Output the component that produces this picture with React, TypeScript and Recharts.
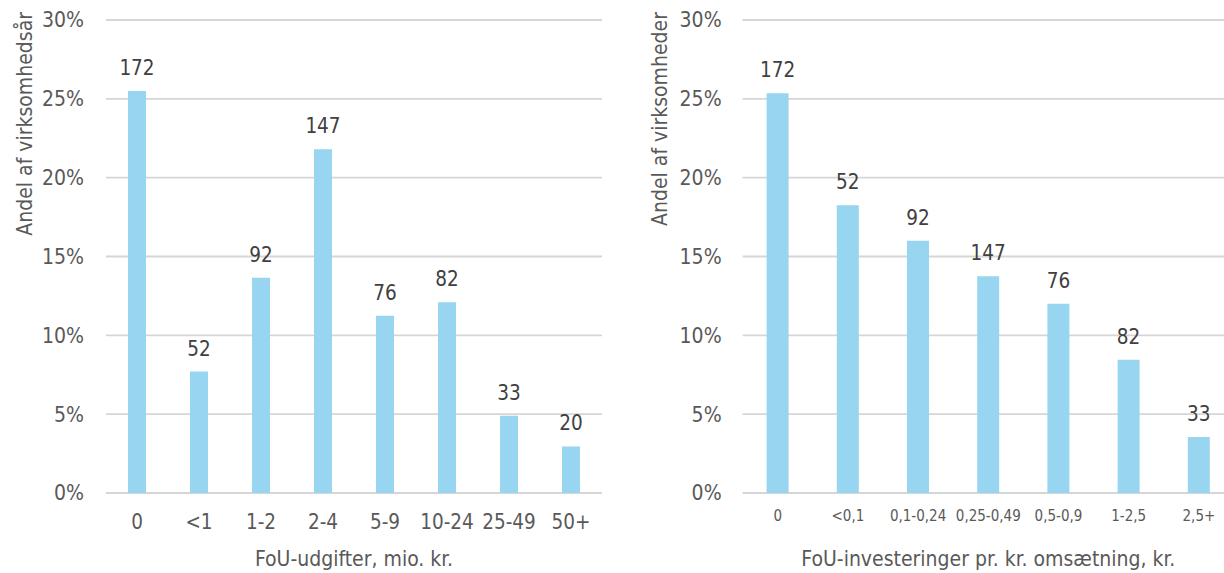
import { BarChart, Bar, XAxis, YAxis, CartesianGrid, LabelList } from "recharts"

const FONT = "'DejaVu Sans Condensed', 'DejaVu Sans', sans-serif"
const BAR_COLOR = "#98D5F0"
const GRID_COLOR = "#D6D6D6"
const AXIS_TEXT = "#595959"
const LABEL_TEXT = "#404040"

const shareTicks = [0, 5, 10, 15, 20, 25, 30]

// FoU-udgifter (mio. kr.)
const spendCategories = ["0", "<1", "1-2", "2-4", "5-9", "10-24", "25-49", "50+"]
const spendShares = [25.5, 7.7, 13.65, 21.8, 11.25, 12.1, 4.9, 2.95]
const spendCounts = [172, 52, 92, 147, 76, 82, 33, 20]

// FoU-investeringer pr. kr. omsætning
const intensityCategories = ["0", "<0,1", "0,1-0,24", "0,25-0,49", "0,5-0,9", "1-2,5", "2,5+"]
const intensityShares = [25.35, 18.25, 16.0, 13.75, 12.0, 8.45, 3.55]
const intensityCounts = [172, 52, 92, 147, 76, 82, 33]

const toRows = (categories: string[], shares: number[], counts: number[]) =>
  categories.map((category, i) => ({ category, share: shares[i], count: counts[i] }))

const spendRows = toRows(spendCategories, spendShares, spendCounts)
const intensityRows = toRows(intensityCategories, intensityShares, intensityCounts)

// rotated y-axis title, hung from the top of the plot area
function YTitle(props: any) {
  const { viewBox, text, dx } = props
  const x = viewBox.x + dx
  const y = viewBox.y - 8
  return (
    <text
      x={x}
      y={y}
      transform={`rotate(-90, ${x}, ${y})`}
      textAnchor="end"
      fill={AXIS_TEXT}
      fontSize={21}
    >
      {text}
    </text>
  )
}

interface PanelProps {
  rows: { category: string; share: number; count: number }[]
  yTitle: string
  xTitle: string
  yAxisWidth: number
  yTitleDx: number
  tickMarginY: number
  xTickSize: number
  xTickMargin: number
  barSize: number
  right: number
}

function Panel(p: PanelProps) {
  return (
    <BarChart
      width={620}
      height={573}
      data={p.rows}
      margin={{ top: 20, right: p.right, bottom: 0, left: 0 }}
    >
      <CartesianGrid vertical={false} stroke={GRID_COLOR} strokeWidth={1.8} />
      <XAxis
        dataKey="category"
        height={80}
        interval={0}
        axisLine={false}
        tickLine={false}
        tickSize={0}
        tickMargin={p.xTickMargin}
        tick={{ fill: AXIS_TEXT, fontSize: p.xTickSize }}
        label={{ value: p.xTitle, position: "insideBottom", offset: 7, fill: AXIS_TEXT, fontSize: 21 }}
      />
      <YAxis
        width={p.yAxisWidth}
        domain={[0, 30]}
        ticks={shareTicks}
        axisLine={false}
        tickLine={false}
        tickSize={0}
        tickMargin={p.tickMarginY}
        tickFormatter={(v: number) => `${v}%`}
        tick={{ fill: AXIS_TEXT, fontSize: 21 }}
        label={<YTitle text={p.yTitle} dx={p.yTitleDx} />}
      />
      <Bar dataKey="share" fill={BAR_COLOR} barSize={p.barSize} isAnimationActive={false}>
        <LabelList dataKey="count" position="top" offset={16} fill={LABEL_TEXT} fontSize={20.5} />
      </Bar>
    </BarChart>
  )
}

export default function App() {
  return (
    <div
      style={{
        position: "absolute",
        left: 0,
        top: 0,
        width: 1224,
        height: 573,
        overflow: "hidden",
        background: "#fff",
        fontFamily: FONT,
        fontStretch: "condensed",
      }}
    >
      <div style={{ position: "absolute", left: 0, top: 0 }}>
        <Panel
          rows={spendRows}
          yTitle="Andel af virksomhedsår"
          xTitle="FoU-udgifter, mio. kr."
          yAxisWidth={106}
          yTitleDx={32}
          tickMarginY={22}
          xTickSize={20.5}
          xTickMargin={21}
          barSize={18}
          right={18}
        />
      </div>
      <div style={{ position: "absolute", left: 620, top: 0 }}>
        <Panel
          rows={intensityRows}
          yTitle="Andel af virksomheder"
          xTitle="FoU-investeringer pr. kr. omsætning, kr."
          yAxisWidth={122.6}
          yTitleDx={47}
          tickMarginY={21}
          xTickSize={15}
          xTickMargin={17}
          barSize={22}
          right={6}
        />
      </div>
    </div>
  )
}
